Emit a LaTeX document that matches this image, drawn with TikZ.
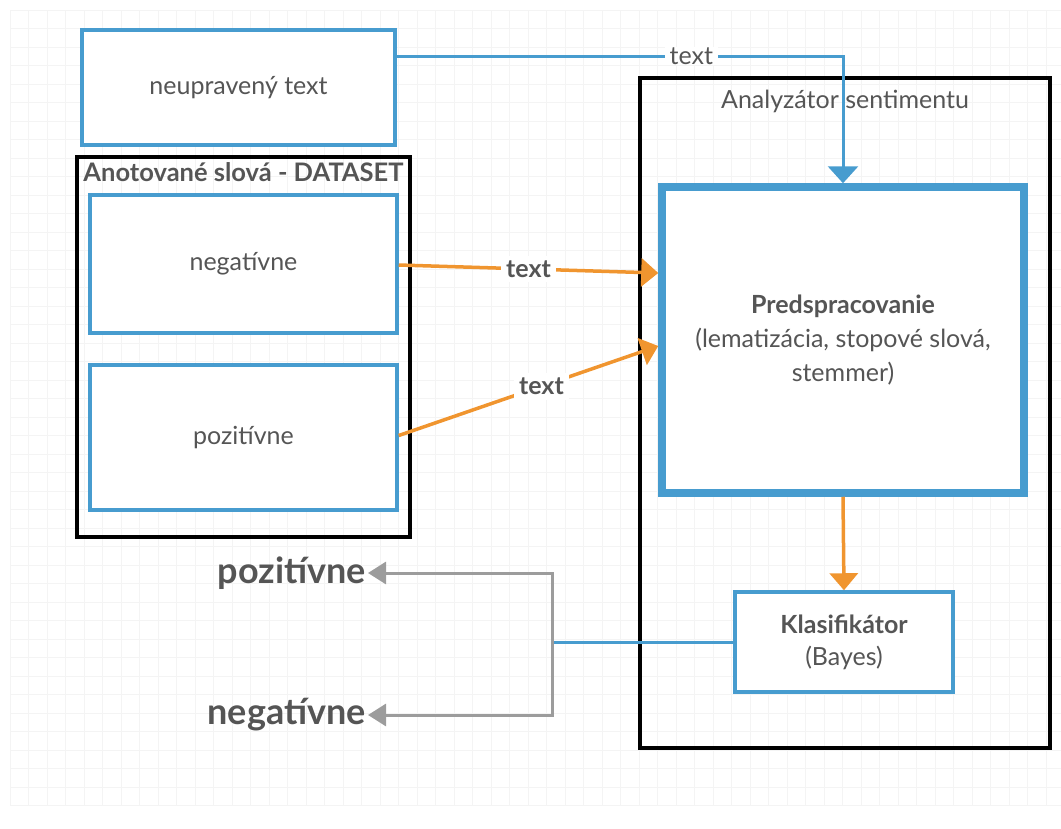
\documentclass[tikz,border=0pt]{standalone}
\usepackage{fontspec}
\setmainfont{Lato}
\usepackage{xcolor}
\usetikzlibrary{arrows.meta,positioning}
\definecolor{boxblue}{HTML}{479CCF}
\definecolor{arrorange}{HTML}{F0952F}
\definecolor{txtgray}{HTML}{555555}
\definecolor{outgray}{HTML}{9C9C9C}

\begin{document}
\begin{tikzpicture}[x=1pt,y=-1pt,->,>={Triangle[width=28pt,length=17pt]},
  box/.style={rectangle,draw=boxblue,line width=3.5pt,fill=white,align=center,text=txtgray,font=\fontsize{25}{34}\selectfont},
  frame/.style={rectangle,draw=black,line width=4.5pt},
  lbl/.style={fill=white,text=txtgray,inner sep=5pt,font=\fontsize{25}{30}\selectfont},
  outlbl/.style={text=txtgray,inner sep=2pt,anchor=east,font=\bfseries\fontsize{36}{40}\selectfont}]
\useasboundingbox (0,0) rectangle (1061,828);
% background grid
\foreach \i in {0,...,57} {
  \draw[-,gray!9,line width=0.6pt] (10+18.5*\i,10) -- (10+18.5*\i,805);}
\foreach \j in {0,...,43} {
  \draw[-,gray!9,line width=0.6pt] (10,10+18.5*\j) -- (1061,10+18.5*\j);}
% frames
\node[frame,minimum width=333pt,minimum height=380pt] (dataset) at (243.5,347) {};
\node[frame,minimum width=410pt,minimum height=670pt] (analyzer) at (845,413) {};
\node[text=txtgray,font=\bfseries\fontsize{25.5}{30}\selectfont,inner sep=0pt,below=8pt of dataset.north] (dstitle) {Anotované slová - DATASET};
\node[text=txtgray,font=\fontsize{25}{30}\selectfont,inner sep=0pt,below=14pt of analyzer.north] (antitle) {Analyzátor sentimentu};
% boxes
\node[box,minimum width=313pt,minimum height=115pt] (raw) at (238.5,87.5) {neupravený text};
\node[box,minimum width=307pt,minimum height=138pt] (neg) at (243.5,264) {negatívne};
\node[box,minimum width=307pt,minimum height=145pt] (pos) at (243.5,437.5) {pozitívne};
\node[box,line width=7.5pt,minimum width=362pt,minimum height=306pt] (prep) at (843,340)
  {\textbf{Predspracovanie}\\(lematizácia, stopové slová,\\stemmer)};
\node[box,minimum width=218pt,minimum height=100pt,font=\fontsize{25}{32}\selectfont] (klas) at (844,642)
  {\textbf{Klasifikátor}\\(Bayes)};
% outputs
\node[outlbl] (outpos) at (368,573) {pozitívne};
\node[outlbl] (outneg) at (368,715) {negatívne};
\coordinate (turn) at (843,56);
\coordinate (split) at (552,642);
% connectors
\draw[boxblue,line width=3pt,>={Triangle[width=30pt,length=17pt]}]
  ([yshift=31.5pt]raw.east) -- node[lbl,pos=0.66,inner ysep=1pt] {text} (turn) -- (prep.north);
\draw[arrorange,line width=3.5pt] ([yshift=-1pt]neg.east) -- node[lbl,font=\bfseries\fontsize{25}{30}\selectfont] {text} ([yshift=67pt]prep.west);
\draw[arrorange,line width=3.5pt] ([yshift=2pt]pos.east) -- node[lbl,pos=0.55,font=\bfseries\fontsize{25}{30}\selectfont] {text} ([yshift=-6pt]prep.west);
\draw[arrorange,line width=3.5pt] (prep.south) -- (klas.north);
\draw[-,boxblue,line width=3pt] (klas.west) -- (split);
\draw[outgray,line width=3pt,>={Triangle[width=22pt,length=18pt]}] (split) |- (outpos.east);
\draw[outgray,line width=3pt,>={Triangle[width=22pt,length=18pt]}] (split) |- (outneg.east);
\end{tikzpicture}
\end{document}
